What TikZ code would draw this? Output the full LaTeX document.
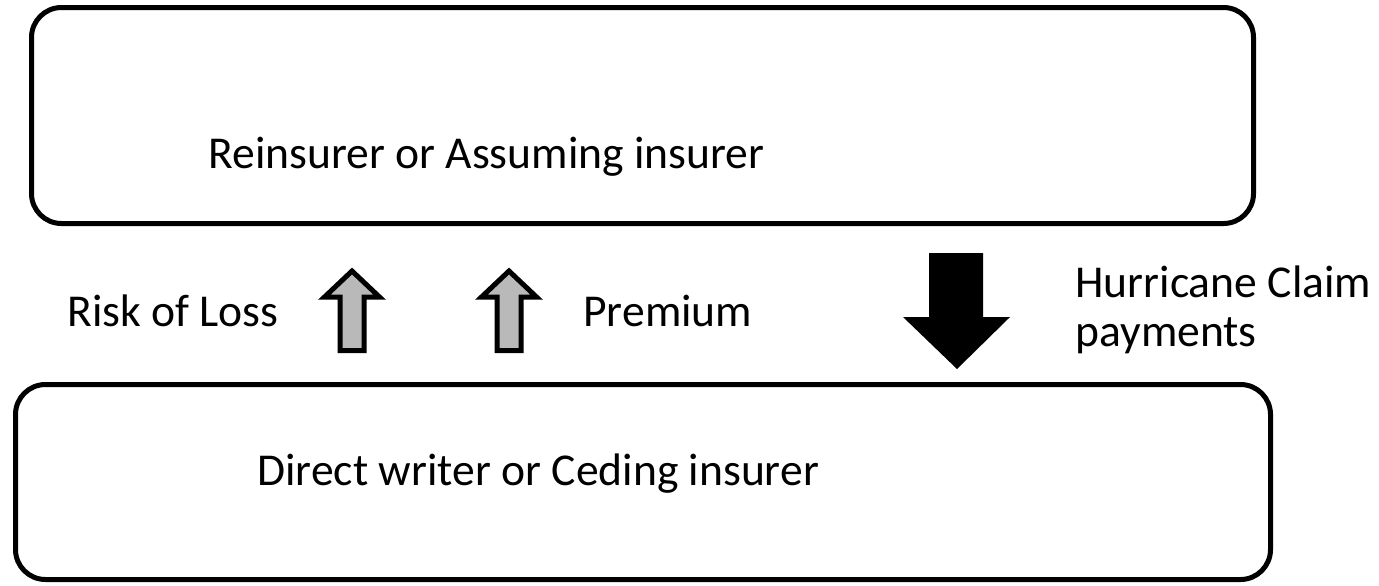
\documentclass[tikz,border=0pt]{standalone}
\usepackage{fontspec}
\setmainfont{Carlito}
\begin{document}
\begin{tikzpicture}
    [%%%%%%%%%%%%%%%%%%%%%%%%%%%%%%
        x=0.5pt,y=-0.5pt,
        box/.style={rectangle,draw=black,line width=2.5pt,rounded corners=15pt,inner sep=0pt},
        lbl/.style={anchor=base west,inner sep=0pt,font=\fontsize{22.8}{27}\selectfont},
        uparrow/.style={draw=black,line width=2.5pt,fill=gray!55}
    ]%%%%%%%%%%%%%%%%%%%%%%%%%%%%%%

\useasboundingbox (0,0) rectangle (1379,585);

\node[box,minimum width=611pt,minimum height=108pt] (top) at (642.5,115.5){};
\node[box,minimum width=627.5pt,minimum height=97.5pt] (bottom) at (643,482){};

\node[lbl] (reinsurer) at (208,168){Reinsurer or Assuming insurer};
\node[lbl] (risk) at (67,326){Risk of Loss};
\node[lbl] (premium) at (583,326){Premium};
\node[lbl] (hurricane) at (1075,297){Hurricane Claim};
\node[lbl] (payments) at (1075,346){payments};
\node[lbl] (direct) at (257,485){Direct writer or Ceding insurer};

\foreach \c in {352,509}{
    \draw[uparrow] (\c,271) -- (\c+27.5,297) -- (\c+12,297) -- (\c+12,350.5)
        -- (\c-12,350.5) -- (\c-12,297) -- (\c-27.5,297) -- cycle;
}

\fill[black] (929,253) -- (983,253) -- (983,317) -- (1010,317) -- (957,369)
    -- (903,317) -- (929,317) -- cycle;

\end{tikzpicture}
\end{document}
